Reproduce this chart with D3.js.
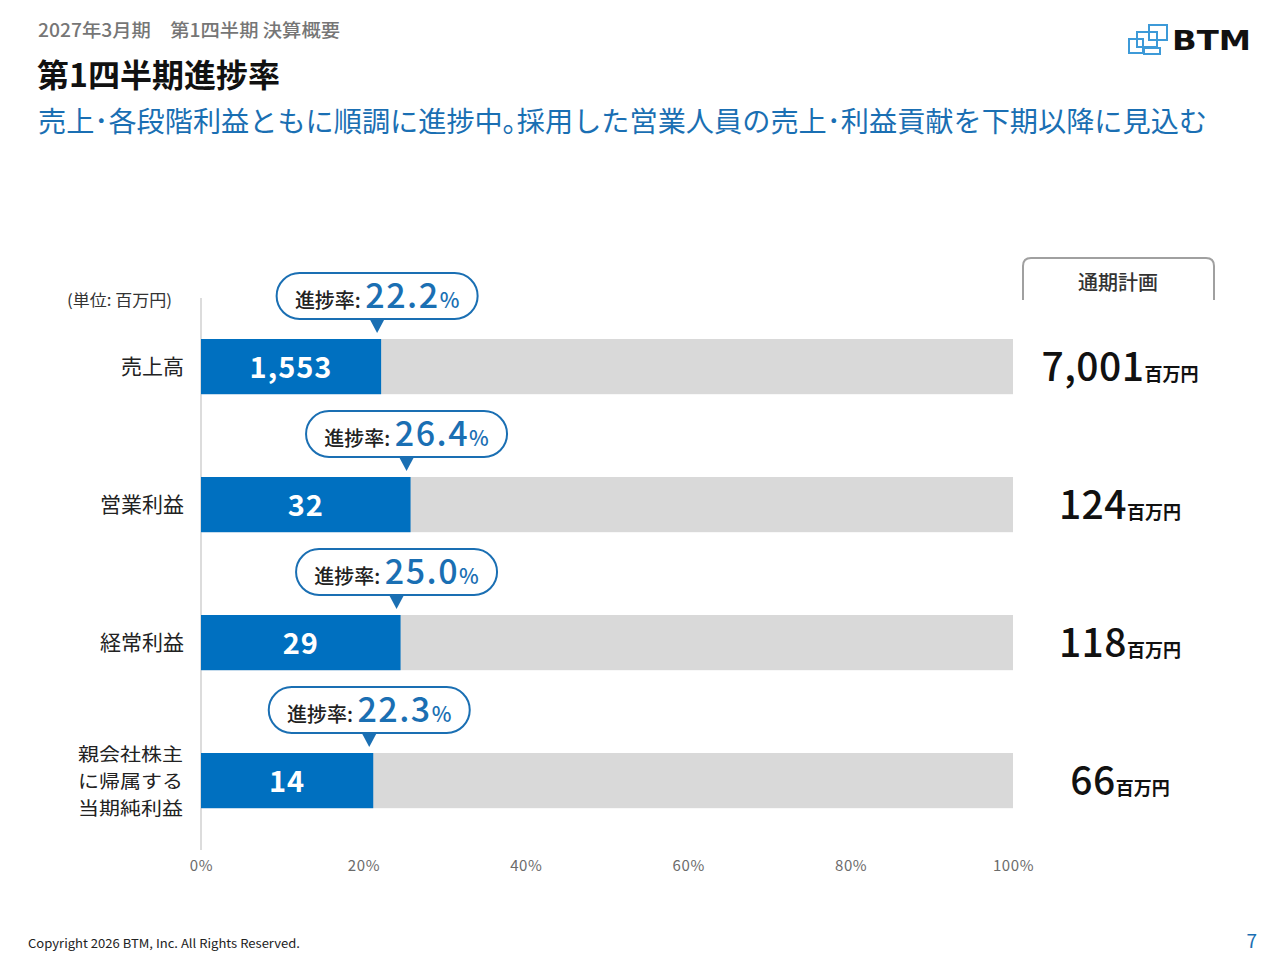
<!DOCTYPE html>
<html><head><meta charset="utf-8">
<script src="https://cdn.jsdelivr.net/npm/d3@7/dist/d3.min.js"></script>
<style>
html,body{margin:0;padding:0;background:#fff;}
svg{display:block;font-family:"Noto Sans CJK JP","Noto Sans",sans-serif;}
</style></head>
<body>
<svg id="c" width="1280" height="960"></svg>
<script>
const categories = ["売上高", "営業利益", "経常利益", "親会社株主\nに帰属する\n当期純利益"];
const actualValues = [1553, 32, 29, 14];
const planValues = [7001, 124, 118, 66];
const actualLabels = ["1,553", "32", "29", "14"];
const planLabels = ["7,001", "124", "118", "66"];
const rateLabels = ["22.2", "26.4", "25.0", "22.3"];
const tickValues = [0, 0.2, 0.4, 0.6, 0.8, 1.0];

const svg = d3.select("#c");
const blue = "#0070c0", textBlue = "#1a6fb3", gray = "#d9d9d9";

// header
svg.append("text").attr("x", 38).attr("y", 37).attr("font-size", 18).attr("font-weight", 500)
  .attr("fill", "#767676").attr("textLength", 302).attr("lengthAdjust", "spacingAndGlyphs")
  .text("2027年3月期　第1四半期  決算概要");
svg.append("text").attr("x", 37).attr("y", 87).attr("font-size", 32).attr("font-weight", 700)
  .attr("fill", "#111").attr("textLength", 243).attr("lengthAdjust", "spacingAndGlyphs").text("第1四半期進捗率");
svg.append("text").attr("x", 38).attr("y", 132).attr("font-size", 28).attr("fill", textBlue)
  .attr("textLength", 1169).attr("lengthAdjust", "spacingAndGlyphs")
  .text("売上･各段階利益ともに順調に進捗中｡採用した営業人員の売上･利益貢献を下期以降に見込む");

// logo
const lg = svg.append("g").attr("fill", "none").attr("stroke", "#3d9ad8").attr("stroke-width", 2);
lg.append("rect").attr("x", 1149).attr("y", 25).attr("width", 18).attr("height", 15);
lg.append("rect").attr("x", 1137).attr("y", 32).attr("width", 20).attr("height", 15);
lg.append("rect").attr("x", 1129).attr("y", 39).attr("width", 14).attr("height", 14);
lg.append("rect").attr("x", 1144).attr("y", 48).attr("width", 16).attr("height", 6);
svg.append("text").attr("x", 1172).attr("y", 50).attr("font-size", 27).attr("font-weight", 700)
  .attr("fill", "#111").attr("font-family", "DejaVu Sans").attr("textLength", 79).attr("lengthAdjust", "spacingAndGlyphs").text("BTM");

// scales
const x = d3.scaleLinear().domain([0, 1]).range([201, 1013]);
const y = d3.scaleBand().domain(categories).range([339, 808.2]).paddingInner(0.6).paddingOuter(0);

// axis line
svg.append("line").attr("x1", 201).attr("x2", 201).attr("y1", 298).attr("y2", 850)
  .attr("stroke", "#d0d0d0").attr("stroke-width", 1.5);

// axis ticks
const ax = svg.append("g").attr("transform", "translate(0,860)")
  .call(d3.axisBottom(x).tickValues(tickValues).tickFormat(d3.format(".0%")).tickSize(0).tickPadding(0));
ax.select(".domain").remove();
ax.selectAll("text").attr("font-size", 15).attr("fill", "#6b6b6b").attr("font-family", "Noto Sans CJK JP").attr("letter-spacing", 0.6);

// unit
svg.append("text").attr("x", 67).attr("y", 306).attr("font-size", 16).attr("fill", "#333")
  .attr("textLength", 105).attr("lengthAdjust", "spacingAndGlyphs").text("(単位: 百万円)");

// bars
const rows = categories.map((c, i) => ({c, a: actualValues[i], p: planValues[i], al: actualLabels[i], pl: planLabels[i], r: rateLabels[i]}));
const g = svg.append("g");
g.selectAll(".bg").data(rows).join("rect")
  .attr("x", x(0)).attr("y", d => y(d.c)).attr("width", x(1) - x(0)).attr("height", y.bandwidth()).attr("fill", gray);
g.selectAll(".fg").data(rows).join("rect")
  .attr("x", x(0)).attr("y", d => y(d.c)).attr("width", d => x(d.a / d.p) - x(0)).attr("height", y.bandwidth()).attr("fill", blue);
g.selectAll(".vl").data(rows).join("text")
  .attr("x", d => (x(0) + x(d.a / d.p)) / 2).attr("y", d => y(d.c) + y.bandwidth() / 2 + 11)
  .attr("text-anchor", "middle").attr("font-size", 29).attr("font-weight", 700).attr("fill", "#fff")
  .attr("letter-spacing", 1).text(d => d.al);

// category labels
rows.forEach(d => {
  const lines = d.c.split("\n");
  const cy = y(d.c) + y.bandwidth() / 2;
  if (lines.length === 1) {
    svg.append("text").attr("text-anchor", "end").attr("font-size", 21).attr("fill", "#222")
      .attr("x", 184).attr("y", cy + 7).text(lines[0]);
  } else {
    lines.forEach((l, k) => {
      svg.append("text").attr("font-size", 18.5).attr("fill", "#222")
        .attr("x", 78).attr("y", cy + 7 + (k - (lines.length - 1) / 2) * 27)
        .attr("textLength", 105).attr("lengthAdjust", "spacingAndGlyphs").text(l);
    });
  }
});

// callouts
rows.forEach(d => {
  const px = x(d.a / d.p) - 4;
  const top = y(d.c);
  const w = 201, h = 46;
  const bx = px - w / 2, by = top - 66;
  const cg = svg.append("g");
  cg.append("rect").attr("x", bx).attr("y", by).attr("width", w).attr("height", h).attr("rx", 23)
    .attr("fill", "#fff").attr("stroke", textBlue).attr("stroke-width", 2);
  cg.append("path").attr("d", `M${px - 8},${by + h - 1} L${px + 8},${by + h - 1} L${px},${top - 6} Z`).attr("fill", textBlue);
  const t = cg.append("text").attr("x", px).attr("y", by + 35).attr("text-anchor", "middle");
  t.append("tspan").attr("font-size", 20).attr("fill", "#222").attr("font-weight", 500).text("進捗率: ");
  t.append("tspan").attr("font-size", 34).attr("fill", textBlue).attr("font-weight", 500).attr("letter-spacing", 1.5).text(d.r);
  t.append("tspan").attr("font-size", 21).attr("fill", textBlue).attr("font-weight", 500).text("%");
});

// plan header
svg.append("path").attr("d", "M1023,300 L1023,266 Q1023,258 1031,258 L1206,258 Q1214,258 1214,266 L1214,300")
  .attr("fill", "none").attr("stroke", "#a0a0a0").attr("stroke-width", 2);
svg.append("text").attr("x", 1118).attr("y", 290).attr("text-anchor", "middle").attr("font-size", 20)
  .attr("font-weight", 500).attr("fill", "#333").text("通期計画");

// plan values
rows.forEach(d => {
  const t = svg.append("text").attr("x", 1120).attr("y", y(d.c) + y.bandwidth() / 2 + 14).attr("text-anchor", "middle");
  t.append("tspan").attr("font-size", 39).attr("font-weight", 500).attr("fill", "#111").attr("letter-spacing", 0.5).text(d.pl);
  t.append("tspan").attr("font-size", 18).attr("font-weight", 700).attr("fill", "#111").text("百万円");
});

// footer
svg.append("text").attr("x", 28).attr("y", 948).attr("font-size", 12).attr("fill", "#222")
  .attr("textLength", 272).attr("lengthAdjust", "spacingAndGlyphs")
  .text("Copyright 2026 BTM, Inc. All Rights Reserved.");
svg.append("text").attr("x", 1257).attr("y", 948).attr("text-anchor", "end").attr("font-size", 19)
  .attr("fill", textBlue).text("7");
</script>
</body></html>
